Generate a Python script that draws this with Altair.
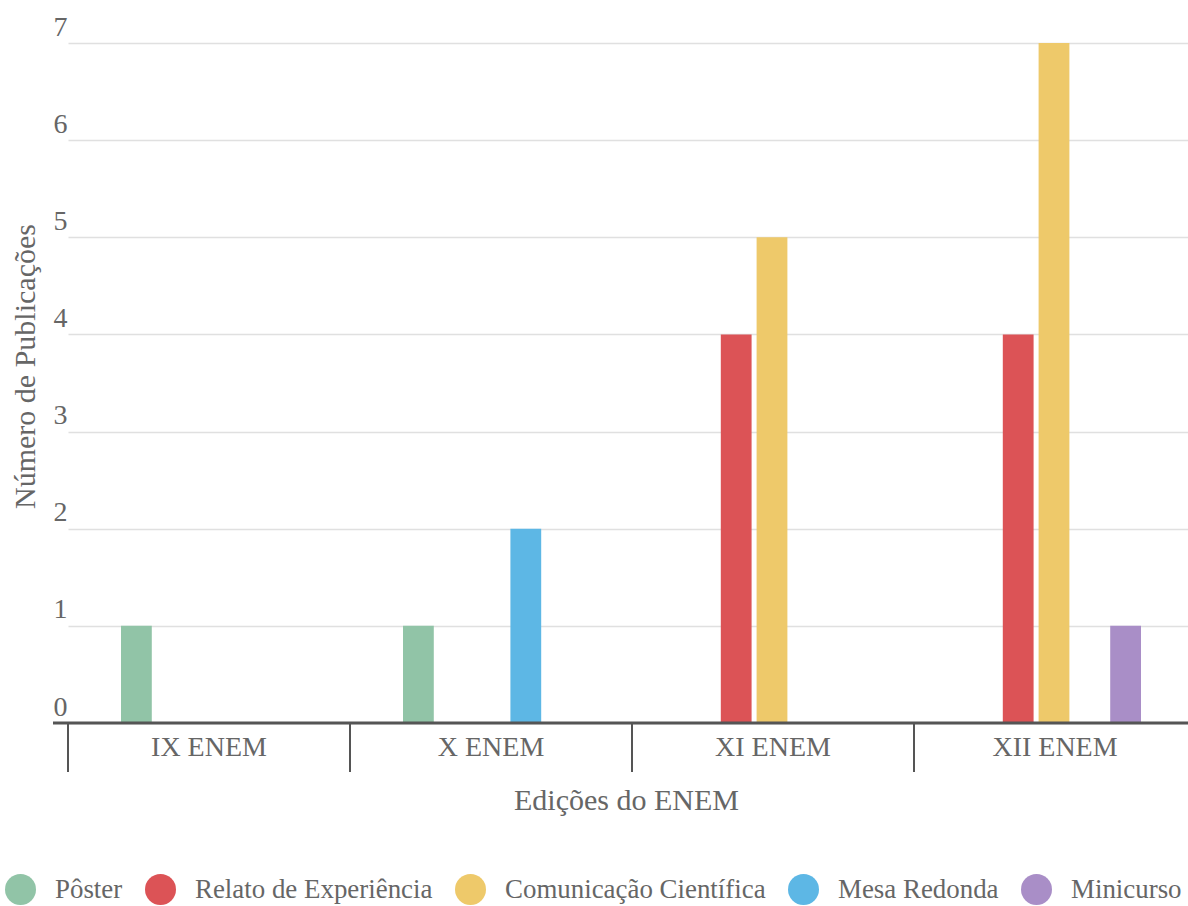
import altair as alt
import pandas as pd

categories = ["IX ENEM", "X ENEM", "XI ENEM", "XII ENEM"]
series = ["Pôster", "Relato de Experiência", "Comunicação Científica", "Mesa Redonda", "Minicurso"]
poster = [1, 1, 0, 0]
relato = [0, 0, 4, 4]
comunicacao = [0, 0, 5, 7]
mesa = [0, 2, 0, 0]
minicurso = [0, 0, 0, 1]
colors = ["#91c4a7", "#dc5356", "#eec96a", "#5db7e5", "#a98ec7"]

rows = []
for s, vals in zip(series, [poster, relato, comunicacao, mesa, minicurso]):
    for c, v in zip(categories, vals):
        rows.append({"edicao": c, "tipo": s, "n": v})
df = pd.DataFrame(rows)

W, H = 1135, 680
FONT = "'Liberation Serif', 'Times New Roman', serif"
TXT = "#666666"

xscale = alt.Scale(domain=categories, range=[15, 1143], paddingInner=0, paddingOuter=0)
xaxis = alt.Axis(domain=False, ticks=False, tickSize=0, grid=False,
                 labelPadding=10, labelFont=FONT, labelFontSize=28,
                 labelColor=TXT, labelAngle=0, labelLimit=0,
                 title="Edições do ENEM", titleFont=FONT, titleFontSize=30,
                 titleFontWeight="normal", titleColor=TXT,
                 titleX=573, titleY=77, titleBaseline="middle", titleAlign="center")

bars = alt.Chart(df).mark_bar().encode(
    x=alt.X("edicao:N", scale=xscale, sort=categories, axis=xaxis),
    xOffset=alt.XOffset("tipo:N", sort=series,
                        scale=alt.Scale(domain=series, range=[53, 227], paddingInner=0.14, paddingOuter=0)),
    y=alt.Y("n:Q", scale=alt.Scale(domain=[0, 7], nice=False),
            axis=alt.Axis(values=[0, 1, 2, 3, 4, 5, 6, 7], grid=True, gridColor="#e0e0e0",
                          gridWidth=1.5, domain=False, ticks=False, tickSize=0,
                          labelAlign="left", labelBaseline="alphabetic", labelPadding=0,
                          labelOffset=-8, labelFont=FONT, labelFontSize=28, labelColor=TXT,
                          title="Número de Publicações", titleFont=FONT, titleFontSize=30,
                          titleFontWeight="normal", titleColor=TXT,
                          titleX=-28, titleY=323, titleBaseline="middle", titleAlign="center",
                          titleAngle=270)),
    color=alt.Color("tipo:N", sort=series, scale=alt.Scale(domain=series, range=colors),
                    legend=alt.Legend(orient="none", legendX=-48, legendY=831,
                                      direction="horizontal", title=None, symbolType="circle",
                                      symbolSize=961, symbolStrokeWidth=0, symbolOpacity=1,
                                      labelFont=FONT, labelFontSize=26.9, labelColor=TXT,
                                      labelLimit=0, labelOffset=19, columnPadding=22, padding=0)),
)

baseline = alt.Chart(pd.DataFrame({"a": [0]})).mark_rule(color="#555555", strokeWidth=3).encode(
    x=alt.value(0), x2=alt.value(W), y=alt.value(H)
)

ticks = alt.Chart(pd.DataFrame({"edicao": categories})).mark_rule(color="#555555", strokeWidth=2).encode(
    x=alt.X("edicao:N", bandPosition=0, sort=categories, scale=xscale, axis=xaxis),
    y=alt.value(H), y2=alt.value(H + 49)
)

chart = alt.layer(bars, baseline, ticks).properties(
    width=W, height=H,
    padding={"left": 53, "top": 43, "right": 0, "bottom": 183},
    autosize=alt.AutoSizeParams(type="none"),
).configure(font=FONT).configure_axis(labelFont=FONT, titleFont=FONT).configure_legend(
    labelFont=FONT
).configure_view(stroke=None)

chart.save("out.html", embed_options={"renderer": "svg", "actions": False})
